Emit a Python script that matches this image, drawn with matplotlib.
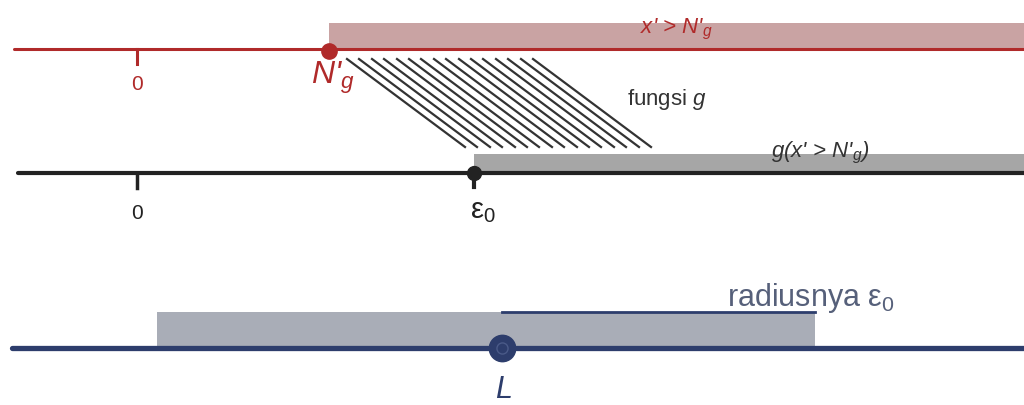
import matplotlib
matplotlib.use("Agg")
import matplotlib.pyplot as plt

plt.rcParams['font.family'] = ['Liberation Sans', 'DejaVu Sans']
plt.rcParams['mathtext.fontset'] = 'custom'
plt.rcParams['mathtext.rm'] = 'Liberation Sans'
plt.rcParams['mathtext.it'] = 'Liberation Sans:italic'

# garis bilangan (posisi dalam piksel gambar)
W = 1024
red_y = 50
black_y = 174
blue_y = 349

red_start = 14
black_start = 18
blue_start = 12

zero_x = 137          # titik 0 pada dua garis atas
Ng_x = 329            # N'_g
eps_x = 474           # epsilon_0
L_x = 502             # L
nbhd_left = 157       # L - eps0
nbhd_right = 815      # L + eps0

red_band = (24, 50)
gray_band = (155, 174)
blue_band = (313, 349)

# garis arsir "fungsi g"
hatch_top = [347, 359, 372, 384, 397, 409, 421, 434, 446, 459, 471, 483, 496, 508, 521, 533]
hatch_dx = 118
hatch_y = (60, 148)

c_red = '#b02a2a'
c_red_band = '#c9a3a3'
c_black = '#222222'
c_gray_band = '#a6a6a6'
c_blue = '#2d3d6c'
c_blue_band = '#a9adb7'

fig = plt.figure(figsize=(10.24, 4.06), dpi=100)
ax = fig.add_axes([0, 0, 1, 1])
ax.set_xlim(0, W)
ax.set_ylim(406, 0)
ax.axis('off')

# pita / daerah
ax.fill_between([Ng_x, W], red_band[0], red_band[1], color=c_red_band, lw=0)
ax.fill_between([eps_x, W], gray_band[0], gray_band[1], color=c_gray_band, lw=0)
ax.fill_between([nbhd_left, nbhd_right], blue_band[0], blue_band[1], color=c_blue_band, lw=0)

# garis bilangan
ax.plot([red_start, W], [red_y, red_y], color=c_red, lw=2.2, solid_capstyle='round')
ax.plot([black_start, W], [black_y, black_y], color=c_black, lw=3, solid_capstyle='round')
ax.plot([blue_start, W], [blue_y, blue_y], color=c_blue, lw=3.8, solid_capstyle='round')

# tanda 0
ax.plot([zero_x, zero_x], [red_y, red_y + 15], color=c_red, lw=2.2)
ax.text(zero_x, 85, '0', color=c_red, fontsize=15, ha='center', va='center')
ax.plot([zero_x, zero_x], [black_y, black_y + 15], color=c_black, lw=2.5)
ax.text(zero_x, 214, '0', color=c_black, fontsize=15, ha='center', va='center')

# arsir
for xt in hatch_top:
    ax.plot([xt, xt + hatch_dx], [hatch_y[0], hatch_y[1]], color='#333333', lw=1.6)

# titik
ax.plot([Ng_x], [red_y + 2], 'o', color=c_red, ms=11, mec=c_red)
ax.plot([eps_x, eps_x], [black_y, black_y + 14], color=c_black, lw=3)
ax.plot([eps_x], [black_y], 'o', color=c_black, ms=10)
ax.plot([L_x], [blue_y], 'o', color=c_blue, ms=19, mec=c_blue)
ax.plot([L_x], [blue_y], 'o', color='none', ms=8, mec='#4a5a88', mew=1)

# jari-jari
ax.plot([L_x, nbhd_right], [blue_band[0], blue_band[0]], color=c_blue, lw=2)

# label
sub_g = r"$_{\mathit{g}}$"
ax.text(Ng_x + 4, 78, "N'" + sub_g, color=c_red, fontsize=23, style='italic',
        ha='center', va='center')
ax.text(676, 29, "x' > N'" + sub_g, color=c_red, fontsize=16, style='italic',
        ha='center', va='center')
ax.text(667, 100, "fungsi " + r"$\mathit{g}$", color='#333333', fontsize=16,
        ha='center', va='center')
ax.text(820, 153, "g(x' > N'" + sub_g + ")", color='#333333', fontsize=16, style='italic',
        ha='center', va='center')
ax.text(eps_x + 9, 211, r"ε$_0$", color=c_black, fontsize=21, ha='center', va='center')
ax.text(L_x + 2, 390, "L", color=c_blue, fontsize=22, style='italic', ha='center', va='center')
ax.text(811, 298, r"radiusnya ε$_0$", color='#56607a', fontsize=22, ha='center', va='center')

fig.savefig('out.png', dpi=100)
